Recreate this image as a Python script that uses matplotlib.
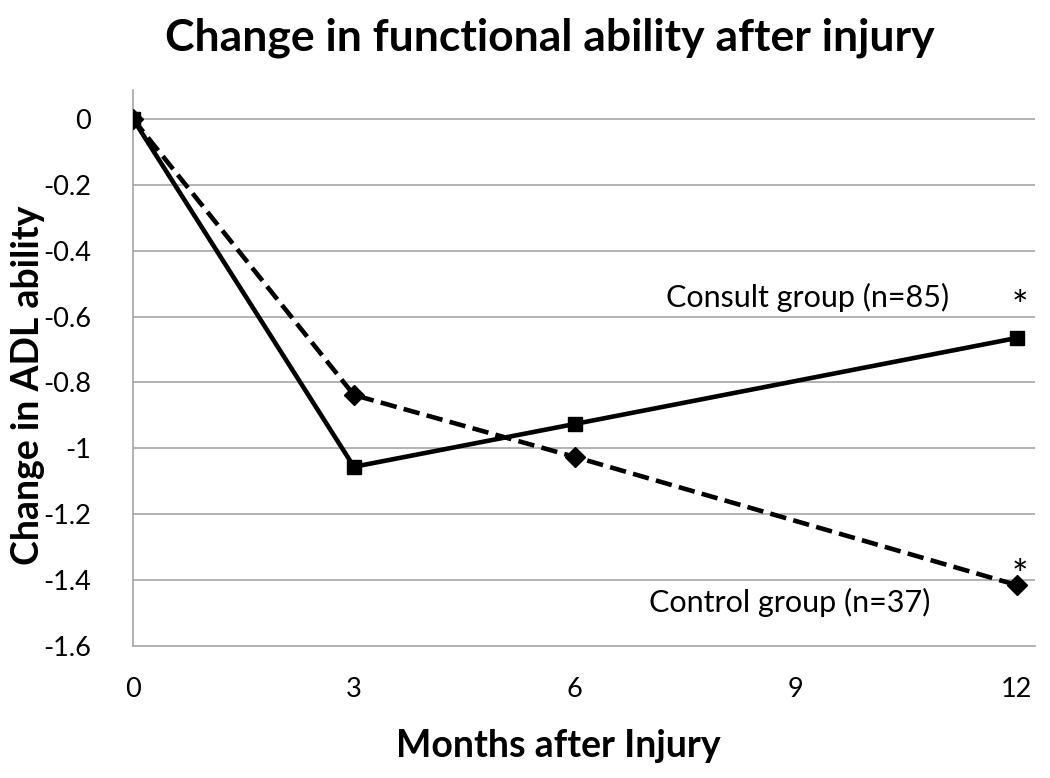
import matplotlib.pyplot as plt

plt.rcParams['font.family'] = ['Lato', 'DejaVu Sans']

months = [0, 3, 6, 12]
consult = [0, -1.056, -0.926, -0.665]
control = [0, -0.838, -1.026, -1.415]
yticks = [0, -0.2, -0.4, -0.6, -0.8, -1, -1.2, -1.4, -1.6]
xticks = [0, 3, 6, 9, 12]

fig = plt.figure(figsize=(10.5, 7.78), dpi=100)
ax = fig.add_axes([0.1267, 0.1697, 0.859, 0.7146])

for y in yticks[:-1]:
    ax.axhline(y, color='#a6a6a6', lw=1.2, zorder=1)

ax.plot(months, control, color='black', lw=3.3, ls=(0, (3.6, 1.6)),
        marker='D', markersize=10, zorder=3)
ax.plot(months, consult, color='black', lw=3.3, marker='s',
        markersize=10.5, zorder=4)

ax.text(9.16, -0.543, 'Consult group (n=85)', fontsize=22, ha='center', va='center')
ax.text(8.92, -1.469, 'Control group (n=37)', fontsize=22, ha='center', va='center')
ax.text(12.04, -0.575, '*', fontsize=28, ha='center', va='center')
ax.text(12.04, -1.39, '*', fontsize=28, ha='center', va='center')

ax.set_xlim(0, 12.25)
ax.set_ylim(-1.6, 0.088)
ax.set_xticks(xticks)
ax.set_yticks(yticks)
ax.set_yticklabels(['0', '-0.2', '-0.4', '-0.6', '-0.8', '-1', '-1.2', '-1.4', '-1.6'])
ax.tick_params(length=0, labelsize=19.5, pad=22)
ax.tick_params(axis='y', pad=30)
for s in ['top', 'right']:
    ax.spines[s].set_visible(False)
for s in ['left', 'bottom']:
    ax.spines[s].set_color('#a6a6a6')
    ax.spines[s].set_linewidth(1.2)
for lbl in ax.get_yticklabels():
    lbl.set_horizontalalignment('right')

ax.set_xlabel('Months after Injury', fontsize=27, fontweight='bold')
ax.xaxis.set_label_coords(0.471, -0.15)
fig.text(28 / 1050, 1 - 385 / 778, 'Change in ADL ability', fontsize=27,
         fontweight='bold', rotation=90, ha='center', va='center')
fig.suptitle('Change in functional ability after injury', fontsize=32,
             fontweight='bold', x=0.524, y=0.978)

fig.savefig('out.png', dpi=100)
